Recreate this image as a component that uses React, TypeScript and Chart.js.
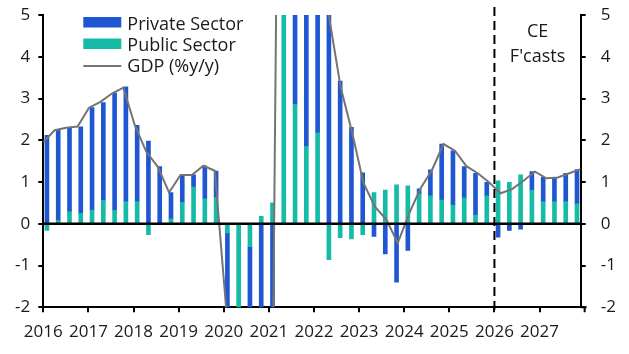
import React, { useEffect, useRef } from 'react';
import { Chart, registerables } from 'chart.js';

Chart.register(...registerables);

// Quarterly data, 2016 Q1 .. 2027 Q4 (contributions to GDP growth, %-pts; GDP %y/y)
const YEARS = ['2016', '2017', '2018', '2019', '2020', '2021', '2022', '2023', '2024', '2025', '2026', '2027'];

const PUBLIC = [
  -0.16, 0.08, 0.29, 0.25,
  0.33, 0.56, 0.32, 0.53,
  0.53, -0.26, 0.0, 0.12,
  0.51, 0.88, 0.6, 0.63,
  -0.22, -2.6, -0.55, 0.18,
  0.5, 6.5, 2.86, 1.85,
  2.18, -0.86, -0.33, -0.36,
  -0.26, 0.75, 0.81, 0.93,
  0.91, 0.72, 0.67, 0.57,
  0.45, 0.62, 0.21, 0.67,
  1.03, 0.99, 1.17, 0.81,
  0.53, 0.53, 0.53, 0.48,
];

const PRIVATE = [
  2.12, 2.18, 2.01, 2.07,
  2.45, 2.34, 2.81, 2.75,
  1.83, 1.98, 1.37, 0.63,
  0.66, 0.29, 0.79, 0.63,
  -1.85, -10.5, -4.5, -4.5,
  -6.1, 17.5, 6.0, 7.0,
  7.3, 5.8, 3.42, 2.31,
  1.22, -0.3, -0.72, -1.4,
  -0.64, 0.12, 0.62, 1.34,
  1.3, 0.75, 1.0, 0.32,
  -0.32, -0.16, -0.13, 0.44,
  0.58, 0.58, 0.68, 0.82,
];

const GDP = [
  1.96, 2.24, 2.3, 2.33,
  2.78, 2.92, 3.12, 3.26,
  2.36, 1.73, 1.37, 0.75,
  1.17, 1.17, 1.39, 1.27,
  -2.05, -13.0, -5.1, -4.3,
  -5.6, 24.0, 8.9, 8.9,
  9.5, 4.95, 3.28, 2.2,
  0.98, 0.41, 0.1, -0.46,
  0.25, 0.85, 1.29, 1.91,
  1.75, 1.38, 1.21, 0.99,
  0.73, 0.83, 1.03, 1.25,
  1.09, 1.11, 1.21, 1.31,
];

const LEGEND_LABELS = ['Private Sector', 'Public Sector', 'GDP (%y/y)'];
const NOTE_LINES = ['CE', "F'casts"];
const FORECAST_START_INDEX = 40; // 2026 Q1
const LAST_INDEX = 47; // 2027 Q4

const BLUE = '#1f56d1';
const TEAL = '#15bba6';
const GREY = '#747474';
const TEXT = '#1a1a1a';
const FONT = '"Open Sans", sans-serif';

export default function App() {
  const ref = useRef<HTMLCanvasElement | null>(null);

  useEffect(() => {
    document.body.style.margin = '0';
    const canvas = ref.current;
    if (!canvas) return;

    const overlay = {
      id: 'overlay',
      afterDatasetsDraw(chart: any) {
        const { ctx, chartArea: a, scales } = chart;
        ctx.save();
        // zero line
        const y0 = scales.y.getPixelForValue(0);
        ctx.strokeStyle = '#000';
        ctx.lineWidth = 2.5;
        ctx.beginPath();
        ctx.moveTo(a.left, y0);
        ctx.lineTo(a.right, y0);
        ctx.stroke();
        // end of the category axis (extends slightly past the right value axis)
        const xEnd = scales.x.getPixelForValue(LAST_INDEX + 0.5);
        ctx.lineWidth = 2;
        ctx.beginPath();
        ctx.moveTo(a.right, a.bottom);
        ctx.lineTo(xEnd + 2, a.bottom);
        ctx.moveTo(xEnd, a.bottom);
        ctx.lineTo(xEnd, a.bottom + 5);
        ctx.stroke();
        // forecast divider
        const xd = scales.x.getPixelForValue(FORECAST_START_INDEX - 0.5);
        ctx.setLineDash([9, 5]);
        ctx.beginPath();
        ctx.moveTo(xd, a.top - 8);
        ctx.lineTo(xd, a.bottom + 6);
        ctx.stroke();
        ctx.setLineDash([]);
        // note
        ctx.fillStyle = TEXT;
        ctx.font = `18px ${FONT}`;
        ctx.textAlign = 'center';
        ctx.textBaseline = 'alphabetic';
        const xn = (xd + a.right) / 2;
        ctx.fillText(NOTE_LINES[0], xn, a.top + 22);
        ctx.fillText(NOTE_LINES[1], xn, a.top + 47);
        // legend
        const lx = a.left + 40;
        const lw = 38;
        const tx = a.left + 84;
        ctx.textAlign = 'left';
        ctx.fillStyle = BLUE;
        ctx.fillRect(lx, a.top + 2, lw, 10.5);
        ctx.fillStyle = TEAL;
        ctx.fillRect(lx, a.top + 23.5, lw, 10.5);
        ctx.strokeStyle = GREY;
        ctx.lineWidth = 2;
        ctx.beginPath();
        ctx.moveTo(lx, a.top + 51);
        ctx.lineTo(lx + lw, a.top + 51);
        ctx.stroke();
        ctx.fillStyle = TEXT;
        ctx.fillText(LEGEND_LABELS[0], tx, a.top + 14.5);
        ctx.fillText(LEGEND_LABELS[1], tx, a.top + 36);
        ctx.fillText(LEGEND_LABELS[2], tx, a.top + 57);
        ctx.restore();
      },
    };

    const tickFont = { family: FONT, size: 17 };
    const yGrid = { drawOnChartArea: false, drawTicks: true, tickLength: 5, color: '#000', lineWidth: 2 };
    const border = { display: true, color: '#000', width: 2 };

    const chart = new Chart(canvas, {
      type: 'bar',
      data: {
        datasets: [
          {
            type: 'bar',
            label: LEGEND_LABELS[1],
            data: PUBLIC.map((v, i) => ({ x: i, y: v })),
            backgroundColor: TEAL,
            barThickness: 4,
            xAxisID: 'x',
            yAxisID: 'y',
            order: 1,
          },
          {
            type: 'bar',
            label: LEGEND_LABELS[0],
            data: PRIVATE.map((v, i) => ({ x: i, y: v })),
            backgroundColor: BLUE,
            barThickness: 4,
            xAxisID: 'x',
            yAxisID: 'y',
            order: 1,
          },
          {
            type: 'line',
            label: LEGEND_LABELS[2],
            data: GDP.map((v, i) => ({ x: i, y: v })),
            borderColor: GREY,
            borderWidth: 2,
            pointRadius: 0,
            tension: 0,
            xAxisID: 'x2',
            yAxisID: 'y',
            stack: 'gdp',
            order: 0,
          } as any,
        ],
      },
      options: {
        responsive: false,
        animation: false,
        devicePixelRatio: 1,
        layout: { padding: { top: 15, left: 0, right: 0, bottom: 0 } },
        plugins: { legend: { display: false }, tooltip: { enabled: false } },
        scales: {
          x: {
            type: 'linear',
            offset: false,
            min: -0.5,
            max: 47.15,
            stacked: true,
            afterBuildTicks: (s: any) => {
              s.ticks = YEARS.map((_, k) => ({ value: k * 4 - 0.5 }));
            },
            afterFit: (s: any) => {
              s.height = 46.7;
              s.paddingLeft = 0;
              s.paddingRight = 0;
            },
            ticks: {
              autoSkip: false,
              maxRotation: 0,
              minRotation: 0,
              padding: 10,
              color: TEXT,
              font: tickFont,
              callback: (_v: any, i: number) => YEARS[i],
            },
            grid: { offset: false, drawOnChartArea: false, drawTicks: true, tickLength: 5, color: '#000', lineWidth: 2 },
            border,
          },
          x2: { type: 'linear', offset: false, min: 0, max: LAST_INDEX, display: false },
          y: {
            type: 'linear',
            position: 'left',
            min: -2,
            max: 5,
            stacked: true,
            afterFit: (s: any) => {
              s.width = 43.3;
              s.paddingTop = 0;
              s.paddingBottom = 0;
            },
            ticks: { stepSize: 1, padding: 8, color: TEXT, font: tickFont },
            grid: yGrid,
            border,
          },
          y2: {
            type: 'linear',
            position: 'right',
            min: -2,
            max: 5,
            afterFit: (s: any) => {
              s.width = 48.3;
              s.paddingTop = 0;
              s.paddingBottom = 0;
            },
            ticks: { stepSize: 1, padding: 15, color: TEXT, font: tickFont },
            grid: yGrid,
            border,
          },
        },
      } as any,
      plugins: [overlay],
    });

    return () => chart.destroy();
  }, []);

  return (
    <div style={{ position: 'absolute', left: 0, top: 0, width: 629, height: 354 }}>
      <canvas ref={ref} width={629} height={354} />
    </div>
  );
}
